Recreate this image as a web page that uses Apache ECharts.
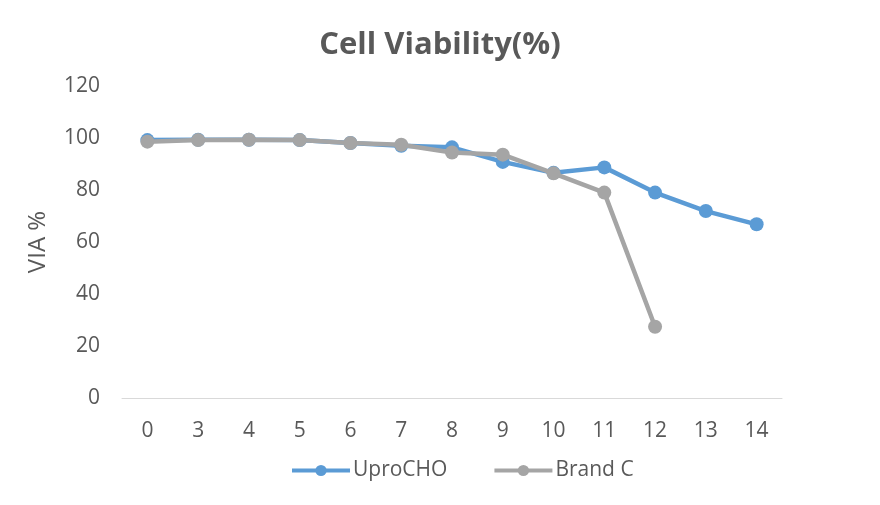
<!DOCTYPE html>
<html><head><meta charset="utf-8">
<script src="https://cdn.jsdelivr.net/npm/echarts@6/dist/echarts.min.js"></script>
<style>html,body{margin:0;padding:0;background:#fff}#c{width:880px;height:505px}</style>
</head><body><div id="c"></div>
<script>
const categories = ['0','3','4','5','6','7','8','9','10','11','12','13','14'];
const uproCHO = [99.2, 99.3, 99.3, 99.2, 98.1, 97.0, 96.4, 90.8, 86.6, 88.7, 79.0, 71.9, 66.8];
const brandC = [98.6, 99.2, 99.3, 99.2, 98.1, 97.4, 94.4, 93.6, 86.4, 79.0, 27.4, null, null];
const yTicks = {min: 0, max: 120, interval: 20};
const font = '"Open Sans", "Liberation Sans", Arial, sans-serif';
const chart = echarts.init(document.getElementById('c'));
chart.setOption({
  animation: false,
  backgroundColor: '#fff',
  title: {text: 'Cell Viability(%)', left: 'center', top: 25,
    textStyle: {fontFamily: font, fontSize: 31, fontWeight: 'bold', color: '#595959'}},
  grid: {left: 122, right: 98, top: 86, bottom: 107},
  legend: {bottom: 19, left: 285, itemWidth: 58, itemHeight: 14, itemGap: 45,
    lineStyle: {width: 4},
    textStyle: {fontFamily: font, fontSize: 21, color: '#595959', padding: [0,0,0,-2]},
    data: ['UproCHO', 'Brand C']},
  xAxis: {type: 'category', data: categories, boundaryGap: true,
    axisLine: {lineStyle: {color: '#d9d9d9', width: 1}}, axisTick: {show: false},
    axisLabel: {fontFamily: font, fontSize: 21, color: '#595959', margin: 23}},
  yAxis: {type: 'value', min: yTicks.min, max: yTicks.max, interval: yTicks.interval,
    name: 'VIA %', nameLocation: 'middle', nameGap: 72, nameRotate: 90,
    nameTextStyle: {fontFamily: font, fontSize: 24, color: '#595959'},
    axisLine: {show: false}, axisTick: {show: false}, splitLine: {show: false},
    axisLabel: {fontFamily: font, fontSize: 21, color: '#595959', margin: 22}},
  series: [
    {name: 'UproCHO', type: 'line', data: uproCHO, symbol: 'circle', symbolSize: 14,
      lineStyle: {width: 4.5, color: '#5b9bd5'}, itemStyle: {color: '#5b9bd5'}, z: 2},
    {name: 'Brand C', type: 'line', data: brandC, symbol: 'circle', symbolSize: 14,
      lineStyle: {width: 4.5, color: '#a5a5a5'}, itemStyle: {color: '#a5a5a5'}, z: 3}
  ]
});
</script></body></html>
